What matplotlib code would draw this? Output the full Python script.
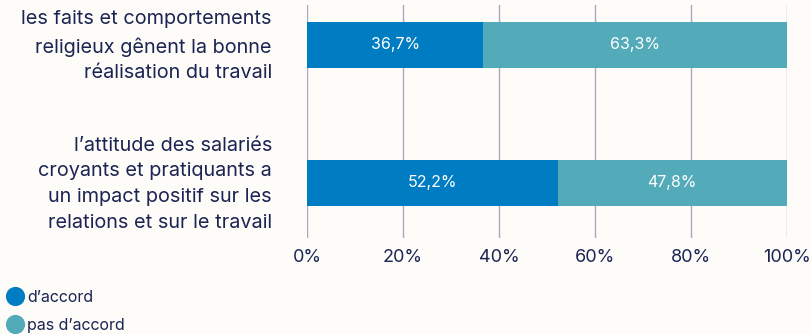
import matplotlib.pyplot as plt

labels = [
    "les faits et comportements\nreligieux gênent la bonne\nréalisation du travail",
    "l’attitude des salariés\ncroyants et pratiquants a\nun impact positif sur les\nrelations et sur le travail",
]
accord = [36.7, 52.2]
pas_accord = [63.3, 47.8]
series_names = ["d’accord", "pas d’accord"]
ticks = [0, 20, 40, 60, 80, 100]

bg = "#fdfcf9"
c_accord = "#007cc2"
c_pas = "#53abba"
navy = "#1b2452"
grid_c = "#a9a8bd"

plt.rcParams['font.family'] = ['Inter', 'DejaVu Sans']

fig = plt.figure(figsize=(8.12, 3.34), dpi=100, facecolor=bg)
ax = fig.add_axes([307 / 812, 96 / 334, 480 / 812, 233 / 334])
ax.set_facecolor(bg)

y = [0, 1]
h = 46 / 138
ax.barh(y, accord, height=h, color=c_accord, zorder=3)
ax.barh(y, pas_accord, left=accord, height=h, color=c_pas, zorder=3)

for i in range(len(y)):
    ax.text(accord[i] / 2, y[i], f"{accord[i]:.1f}%".replace(".", ","),
            ha="center", va="center", color="white", fontsize=11.5, zorder=4)
    ax.text(accord[i] + pas_accord[i] / 2, y[i],
            f"{pas_accord[i]:.1f}%".replace(".", ","),
            ha="center", va="center", color="white", fontsize=11.5, zorder=4)
    ax.text(-7.3, y[i] + 0.01, labels[i], ha="right", va="center",
            color=navy, fontsize=14.3, linespacing=1.56)

ax.set_xlim(0, 100)
ax.set_ylim(1 + 55 / 138, -40 / 138)
ax.set_xticks(ticks)
ax.set_xticklabels([f"{t}%" for t in ticks], color=navy, fontsize=13)
ax.set_yticks([])
ax.tick_params(axis="x", length=0, pad=8)
for t in ticks:
    ax.axvline(t, color=grid_c, lw=1, zorder=1)
for s in ax.spines.values():
    s.set_visible(False)

# legend drawn by hand in figure pixels
colors = [c_accord, c_pas]
for k, name in enumerate(series_names):
    yy = 1 - (296 + 28 * k) / 334
    fig.add_artist(plt.Line2D([15.5 / 812], [yy], marker="o", markersize=12.8,
                              color=colors[k], transform=fig.transFigure))
    fig.text(27 / 812, yy, name, ha="left", va="center_baseline",
             color=navy, fontsize=11.5)

fig.savefig("out.png", dpi=100, facecolor=bg)
